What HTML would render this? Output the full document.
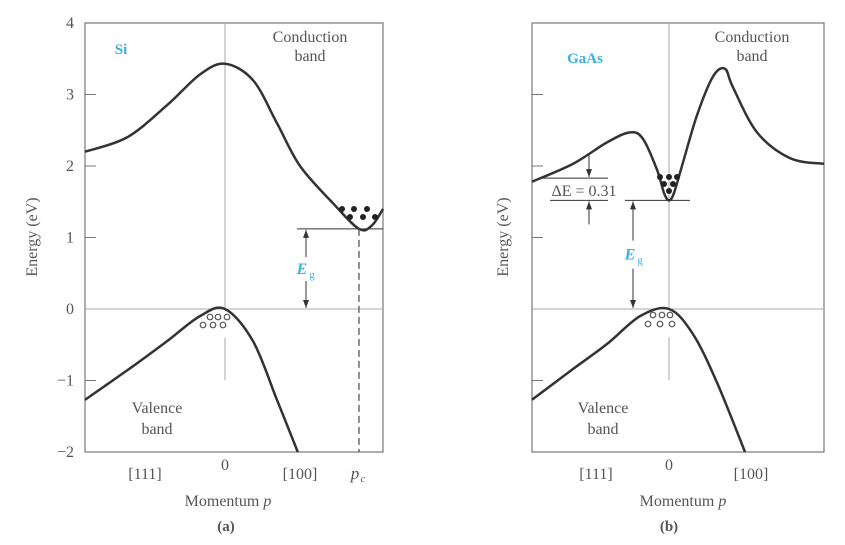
<!DOCTYPE html>
<html><head><meta charset="utf-8"><style>
body{margin:0;background:#fff;}
svg{display:block;font-family:"Liberation Serif",serif;}
</style></head><body>
<svg id="chart" width="845" height="545" viewBox="0 0 845 545"></svg>
<script>
// y-axis data
const yTicks=[4,3,2,1,0,-1,-2];
const yTickLabels=["4","3","2","1","0","\u22121","\u22122"];
// Si (panel a)
const siCondP=[-1,-0.7,-0.414,-0.179,0,0.2,0.371,0.536,0.771,0.957,1.05,1.129];
const siCondE=[2.2,2.4,2.85,3.28,3.43,3.2,2.6,2.0,1.48,1.12,1.17,1.4];
const siValP=[-1,-0.657,-0.414,-0.179,0,0.2,0.371,0.52];
const siValE=[-1.27,-0.8,-0.45,-0.1,0,-0.45,-1.27,-2];
const siGap=1.12, siPc=0.957;
// GaAs (panel b)
const gaCondP=[-0.979,-0.686,-0.443,-0.279,-0.186,-0.086,-0.035,0,0.035,0.1,0.2,0.314,0.4,0.457,0.629,0.864,1.107];
const gaCondE=[1.78,2.03,2.33,2.47,2.38,1.95,1.62,1.52,1.62,2.05,2.71,3.25,3.36,3.1,2.47,2.11,2.03];
const gaValP=[-0.979,-0.686,-0.443,-0.207,0,0.171,0.343,0.543];
const gaValE=[-1.27,-0.84,-0.49,-0.1,0,-0.35,-1.03,-2];
const gaGap=1.52, gaSide=1.83, gaDeltaLabel="\u0394E = 0.31";

const NS="http://www.w3.org/2000/svg";
const svg=document.getElementById('chart');
const Y0=309, YS=71.5;
function yS(e){return Y0-YS*e;}
function mk(tag,attrs,parent){const el=document.createElementNS(NS,tag);for(const k in attrs)el.setAttribute(k,attrs[k]);(parent||svg).appendChild(el);return el;}
function txt(s,x,y,o,parent){const t=mk('text',Object.assign({x:x,y:y,'font-size':15,fill:'#555','text-anchor':'middle'},o||{}),parent);t.textContent=s;return t;}
function curve(ps,es,xf){const pts=ps.map((p,i)=>[xf(p),yS(es[i])]);let d='M'+pts[0][0]+','+pts[0][1];
 for(let i=0;i<pts.length-1;i++){const p0=pts[Math.max(0,i-1)],p1=pts[i],p2=pts[i+1],p3=pts[Math.min(pts.length-1,i+2)];
 d+=' C'+(p1[0]+(p2[0]-p0[0])/6)+','+(p1[1]+(p2[1]-p0[1])/6)+' '+(p2[0]-(p3[0]-p1[0])/6)+','+(p2[1]-(p3[1]-p1[1])/6)+' '+p2[0]+','+p2[1];}
 return d;}
function arrow(x,y1,y2,g){mk('line',{x1:x,y1:y1,x2:x,y2:y2,stroke:'#333','stroke-width':1},g);const dir=y2>y1?1:-1;
 mk('path',{d:`M${x-3},${y2-8*dir} L${x},${y2} L${x+3},${y2-8*dir} Z`,fill:'#333'},g);}
function momentum(x,y,g){const t=mk('text',{x:x,y:y,'font-size':16,fill:'#555','text-anchor':'middle'},g);
 t.appendChild(document.createTextNode('Momentum '));const ts=mk('tspan',{'font-style':'italic'},t);ts.textContent='p';
 }

function panel(o){
 const g=mk('g',{}); 
 const xf=p=>o.x0+p*140;
 const box=mk('rect',{x:o.left,y:yS(4),width:o.right-o.left,height:yS(-2)-yS(4),fill:'none',stroke:'#777','stroke-width':1.2},g);
 
 const zl=mk('line',{x1:o.left,y1:yS(0),x2:o.right,y2:yS(0),stroke:'#aaa','stroke-width':1},g);
 
 mk('line',{x1:o.x0,y1:yS(4),x2:o.x0,y2:yS(0),stroke:'#aaa','stroke-width':1},g);
 mk('line',{x1:o.x0,y1:yS(-0.4),x2:o.x0,y2:yS(-1),stroke:'#aaa','stroke-width':1},g);
 yTicks.forEach((t,i)=>{ if(t===4||t===-2||t===0)return;
  mk('line',{x1:o.left,y1:yS(t),x2:o.left+11,y2:yS(t),stroke:'#777','stroke-width':1},g);});
 if(o.labels){yTicks.forEach((t,i)=>{const l=txt(yTickLabels[i],74,yS(t)+5,{'text-anchor':'end','font-size':16},g);
  });}
 const cb=mk('path',{d:curve(o.cP,o.cE,xf),fill:'none',stroke:'#333','stroke-width':2.5},g);
 
 const vb=mk('path',{d:curve(o.vP,o.vE,xf),fill:'none',stroke:'#333','stroke-width':2.5},g);
 
 return {g,xf};
}

// Panel a
let A=panel({name:'panel-a-si',left:85,right:383,x0:225,labels:true,cP:siCondP,cE:siCondE,vP:siValP,vE:siValE});
mk('line',{x1:297,y1:yS(siGap),x2:383,y2:yS(siGap),stroke:'#333','stroke-width':1},A.g);
arrow(306,yS(siGap/2)-12,yS(siGap)+1,A.g);arrow(306,yS(siGap/2)+12,yS(0)-1,A.g);
let eg=txt('E',302,yS(siGap/2)+5,{fill:'#3ab0e0','font-style':'italic','font-weight':'bold','font-size':16},A.g);

txt('g',312,yS(siGap/2)+9,{fill:'#3ab0e0','font-size':11},A.g);
mk('line',{x1:A.xf(siPc),y1:yS(siGap),x2:A.xf(siPc),y2:yS(-2),stroke:'#555','stroke-width':1.3,'stroke-dasharray':'7,4'},A.g);
[[342,209],[354,209],[367,209],[350,217],[363,217],[375,217]].forEach(c=>mk('circle',{cx:c[0],cy:c[1],r:3,fill:'#222'},A.g));
[[210,317],[218,317],[227,317],[203,325],[213,325],[223,325]].forEach(c=>mk('circle',{cx:c[0],cy:c[1],r:2.8,fill:'#fff',stroke:'#555','stroke-width':1.2},A.g));
txt('Si',121,54,{fill:'#3ab0e0','font-weight':'bold','font-size':15},A.g);
txt('Conduction',310,42,{'font-size':16},A.g);txt('band',310,61,{'font-size':16},A.g);
txt('Valence',157,413,{'font-size':16},A.g);txt('band',157,434,{'font-size':16},A.g);
txt('[111]',145,479,{'font-size':16},A.g);txt('0',225,470,{'font-size':16},A.g);txt('[100]',300,479,{'font-size':16},A.g);
txt('p',355,479,{'font-style':'italic','font-size':17},A.g);txt('c',363,482,{'font-style':'italic','font-size':11},A.g);
momentum(228,506,A.g);
txt('(a)',226,531,{'font-weight':'bold'},A.g);
let yt=txt('Energy (eV)',0,0,{transform:'translate(37,237) rotate(-90)','font-size':16},A.g);


// Panel b
let B=panel({name:'panel-b-gaas',left:532,right:824,x0:669,labels:false,cP:gaCondP,cE:gaCondE,vP:gaValP,vE:gaValE});
mk('line',{x1:540,y1:yS(gaSide),x2:608,y2:yS(gaSide),stroke:'#333','stroke-width':1},B.g);
mk('line',{x1:550,y1:yS(gaGap),x2:608,y2:yS(gaGap),stroke:'#333','stroke-width':1},B.g);
mk('line',{x1:625,y1:yS(gaGap),x2:690,y2:yS(gaGap),stroke:'#333','stroke-width':1},B.g);
arrow(589,yS(gaSide)-23,yS(gaSide)-1,B.g);arrow(589,yS(gaGap)+24,yS(gaGap)+1,B.g);
txt(gaDeltaLabel,584,196,{'font-size':16},B.g);
arrow(633,yS(gaGap/2)-14,yS(gaGap)+1,B.g);arrow(633,yS(gaGap/2)+14,yS(0)-1,B.g);
txt('E',630,yS(gaGap/2)+5,{fill:'#3ab0e0','font-style':'italic','font-weight':'bold','font-size':16},B.g);
txt('g',640,yS(gaGap/2)+9,{fill:'#3ab0e0','font-size':11},B.g);
[[660,177],[669,177],[677,177],[664,184],[673,184],[669,191]].forEach(c=>mk('circle',{cx:c[0],cy:c[1],r:3,fill:'#222'},B.g));
[[653,315],[662,315],[670,315],[648,324],[660,324],[672,324]].forEach(c=>mk('circle',{cx:c[0],cy:c[1],r:2.8,fill:'#fff',stroke:'#555','stroke-width':1.2},B.g));
txt('GaAs',585,63,{fill:'#3ab0e0','font-weight':'bold','font-size':15},B.g);
txt('Conduction',752,42,{'font-size':16},B.g);txt('band',752,61,{'font-size':16},B.g);
txt('Valence',603,413,{'font-size':16},B.g);txt('band',603,434,{'font-size':16},B.g);
txt('[111]',596,479,{'font-size':16},B.g);txt('0',669,470,{'font-size':16},B.g);txt('[100]',751,479,{'font-size':16},B.g);
momentum(683,506,B.g);
txt('(b)',669,531,{'font-weight':'bold'},B.g);
txt('Energy (eV)',0,0,{transform:'translate(508,237) rotate(-90)','font-size':16},B.g);
</script>
</body></html>
